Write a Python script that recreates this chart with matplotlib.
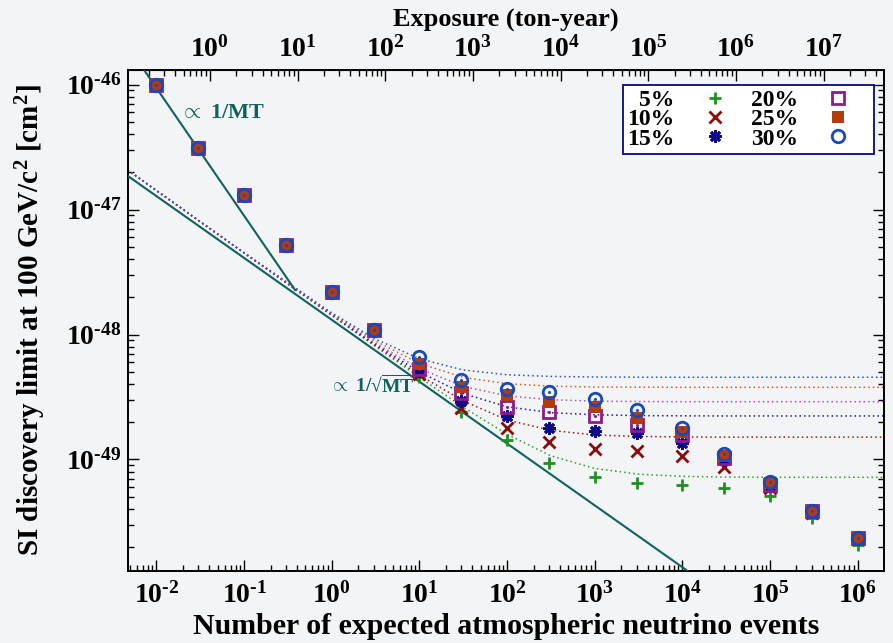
import numpy as np
import matplotlib
matplotlib.use("Agg")
import matplotlib.pyplot as plt
from matplotlib.ticker import LogLocator, NullFormatter

plt.rcParams['font.family'] = ['Liberation Serif', 'DejaVu Serif']
plt.rcParams['font.weight'] = 'bold'
plt.rcParams['axes.labelweight'] = 'bold'
plt.rcParams['mathtext.fontset'] = 'custom'
plt.rcParams['mathtext.rm'] = 'Liberation Serif:bold'
plt.rcParams['mathtext.it'] = 'Liberation Serif:bold'
plt.rcParams['mathtext.bf'] = 'Liberation Serif:bold'

# expected number of atmospheric neutrino events at each simulated exposure
events = [1e-2, 3e-2, 1e-1, 3e-1, 1, 3, 10, 30, 1e2, 3e2, 1e3, 3e3, 1e4, 3e4,
          1e5, 3e5, 1e6]

# discovery limits [cm^2] for each systematic uncertainty on the neutrino flux
limit_5 = [9.9e-47, 3.10e-47, 1.31e-47, 5.2e-48, 2.19e-48, 1.09e-48, 4.57e-49,
           2.41e-49, 1.43e-49, 9.4e-50, 7.24e-50, 6.5e-50, 6.25e-50, 5.9e-50,
           5.1e-50, 3.40e-50, 2.07e-50]
limit_10 = [9.9e-47, 3.10e-47, 1.31e-47, 5.2e-48, 2.19e-48, 1.09e-48, 4.83e-49,
            2.58e-49, 1.79e-49, 1.39e-49, 1.21e-49, 1.18e-49, 1.07e-49, 8.75e-50,
            5.9e-50, 3.75e-50, 2.30e-50]
limit_15 = [9.9e-47, 3.10e-47, 1.31e-47, 5.2e-48, 2.19e-48, 1.09e-48, 5.1e-49,
            2.94e-49, 2.23e-49, 1.79e-49, 1.70e-49, 1.64e-49, 1.36e-49, 9.9e-50,
            6.14e-50, 3.80e-50, 2.33e-50]
limit_20 = [9.9e-47, 3.10e-47, 1.31e-47, 5.2e-48, 2.19e-48, 1.09e-48, 5.3e-49,
            3.40e-49, 2.64e-49, 2.40e-49, 2.23e-49, 1.89e-49, 1.57e-49, 1.03e-49,
            6.3e-50, 3.85e-50, 2.35e-50]
limit_25 = [9.9e-47, 3.10e-47, 1.31e-47, 5.2e-48, 2.19e-48, 1.09e-48, 5.8e-49,
            3.82e-49, 3.28e-49, 2.90e-49, 2.64e-49, 2.15e-49, 1.66e-49, 1.07e-49,
            6.43e-50, 3.87e-50, 2.37e-50]
limit_30 = [9.9e-47, 3.10e-47, 1.31e-47, 5.2e-48, 2.19e-48, 1.09e-48, 6.6e-49,
            4.33e-49, 3.66e-49, 3.49e-49, 3.05e-49, 2.49e-49, 1.79e-49, 1.11e-49,
            6.6e-50, 3.87e-50, 2.37e-50]

# expectation curves (dotted), sampled along the event axis
curve_events = [10**-2.33, 1e-1, 1, 10**0.5, 10, 10**1.5, 1e2, 10**2.5, 1e3,
                10**3.5, 1e4, 10**4.5, 1e5, 10**6.31]
curve_5 = [2.07e-47, 4.49e-48, 1.42e-48, 8.01e-49, 4.54e-49, 2.62e-49, 1.59e-49,
           1.07e-49, 8.48e-50, 7.63e-50, 7.33e-50, 7.23e-50, 7.21e-50, 7.20e-50]
curve_10 = [2.07e-47, 4.49e-48, 1.43e-48, 8.12e-49, 4.73e-49, 2.94e-49, 2.07e-49,
            1.71e-49, 1.57e-49, 1.53e-49, 1.515e-49, 1.51e-49, 1.51e-49, 1.51e-49]
curve_15 = [2.07e-47, 4.49e-48, 1.44e-48, 8.29e-49, 5.01e-49, 3.37e-49, 2.64e-49,
            2.37e-49, 2.28e-49, 2.245e-49, 2.235e-49, 2.23e-49, 2.23e-49, 2.23e-49]
curve_20 = [2.07e-47, 4.50e-48, 1.45e-48, 8.49e-49, 5.34e-49, 3.84e-49, 3.23e-49,
            3.01e-49, 2.93e-49, 2.91e-49, 2.90e-49, 2.90e-49, 2.90e-49, 2.90e-49]
curve_25 = [2.075e-47, 4.50e-48, 1.47e-48, 8.83e-49, 5.87e-49, 4.54e-49, 4.04e-49,
            3.86e-49, 3.80e-49, 3.79e-49, 3.78e-49, 3.78e-49, 3.78e-49, 3.78e-49]
curve_30 = [2.075e-47, 4.51e-48, 1.49e-48, 9.19e-49, 6.39e-49, 5.20e-49, 4.76e-49,
            4.62e-49, 4.57e-49, 4.555e-49, 4.55e-49, 4.55e-49, 4.55e-49, 4.55e-49]

# scaling guides
mt_events = [10**-2.137, 10**-0.419]
mt_limit = [10**-45.888, 10**-47.644]
sqrt_events = [10**-2.325, 10**4.06]
sqrt_limit = [10**-46.732, 10**-49.892]

labels = ['5%', '10%', '15%', '20%', '25%', '30%']
events_per_ton_year = 0.0407

teal = '#0f625d'
series = [
    (limit_5, curve_5, '#1f8f1f', '#2aa02a', dict(marker='+', ms=9, mew=2.0)),
    (limit_10, curve_10, '#8b0a0a', '#a01818', dict(marker='x', ms=8, mew=2.0)),
    (limit_15, curve_15, '#0a0a8b', '#1a1a9a', dict(marker=(8, 2, 0), ms=9, mew=2.0)),
    (limit_20, curve_20, '#8e1a8e', '#b050c0', dict(marker='s', ms=8.5, mew=2.0, mfc='none')),
    (limit_25, curve_25, '#b43c0a', '#d85a20', dict(marker='s', ms=8.5, mew=0)),
    (limit_30, curve_30, '#1648c0', '#2a50d8', dict(marker='o', ms=9, mew=2.0, mfc='none')),
]

fig = plt.figure(figsize=(8.93, 6.43), dpi=100)
fig.patch.set_facecolor('#f3f4f5')
ax = fig.add_axes([0.1433, 0.112, 0.8467, 0.7791])
ax.set_facecolor('#f3f4f5')
ax.set_xscale('log')
ax.set_yscale('log')
ax.set_xlim(10**-2.325, 10**6.30)
ax.set_ylim(10**-49.892, 10**-45.884)

for lim, curve, mcol, ccol, style in series:
    ax.plot(curve_events, curve, ls=(0, (1, 2)), lw=1.1, color=ccol, zorder=2)

ax.plot(mt_events, mt_limit, color=teal, lw=1.5, zorder=3)
ax.plot(sqrt_events, sqrt_limit, color=teal, lw=1.5, zorder=3)

handles = []
for lim, curve, mcol, ccol, style in series:
    style = dict(style)
    if style.get('mfc') != 'none':
        style['mfc'] = mcol
    h, = ax.plot(events, lim, ls='none', color=mcol, mec=mcol, zorder=4, **style)
    if style['marker'] in ('s', 'o') and style.get('mfc') == 'none':
        ax.plot(events, lim, ls='none', marker='o', ms=2.2, color=mcol, mew=0, zorder=4)
    handles.append(h)

ax.text(0.0185, 5.9e-47, r'$\propto$ 1/MT', color=teal, fontsize=16,
        va='center', ha='left')
ax.text(0.93, 4.0e-49, '$\\propto$ 1/\u221a$\\overline{\\mathrm{MT}}$', color=teal,
        fontsize=14, va='center', ha='left')

ax.set_xticks([10.0**k for k in range(-2, 7)])
ax.set_xticklabels([r'$10^{\text{-}%d}$' % -k if k < 0 else r'$10^{%d}$' % k
                    for k in range(-2, 7)])
ax.xaxis.set_minor_locator(LogLocator(base=10, subs=np.arange(2, 10), numticks=20))
ax.xaxis.set_minor_formatter(NullFormatter())
ax.set_yticks([10.0**k for k in range(-49, -45)])
ax.set_yticklabels([r'$10^{\text{-}%d}$' % -k for k in range(-49, -45)])
ax.yaxis.set_minor_locator(LogLocator(base=10, subs=np.arange(2, 10), numticks=20))
ax.yaxis.set_minor_formatter(NullFormatter())
ax.tick_params(which='both', direction='in', right=True, top=False, labelsize=20,
               width=1.0, colors='black')
ax.tick_params(which='major', length=8)
ax.tick_params(which='minor', length=4)
ax.tick_params(axis='x', pad=8)
ax.tick_params(axis='y', pad=5)
for s in ax.spines.values():
    s.set_linewidth(1.4)

top = ax.secondary_xaxis('top', functions=(lambda n: n / events_per_ton_year,
                                           lambda e: e * events_per_ton_year))
top.set_xticks([10.0**k for k in range(0, 8)])
top.set_xticklabels([r'$10^{%d}$' % k for k in range(0, 8)])
top.xaxis.set_minor_locator(LogLocator(base=10, subs=np.arange(2, 10), numticks=20))
top.xaxis.set_minor_formatter(NullFormatter())
top.tick_params(which='both', direction='in', labelsize=20, width=1.0, pad=5)
top.tick_params(which='major', length=8)
top.tick_params(which='minor', length=4)
top.set_xlabel('Exposure (ton-year)', fontsize=19, labelpad=7)

ax.set_xlabel('Number of expected atmospheric neutrino events', fontsize=21.5,
              labelpad=3)
ax.set_ylabel('SI discovery limit at 100 GeV/c$^2$ [cm$^2$]', fontsize=21,
              labelpad=13)

# right-aligned percentages: pad with figure spaces to the widest label
width = max(len(s) for s in labels)
leg = ax.legend(handles, [s.rjust(width, '\u2007') for s in labels], ncol=2,
                loc='upper right', bbox_to_anchor=(0.9868, 0.970),
                markerfirst=False, fontsize=17, frameon=True, fancybox=False,
                framealpha=1, edgecolor='#1a1a80', labelspacing=-0.1,
                columnspacing=0.2, handlelength=2.65, handletextpad=0.37,
                borderpad=0.2, borderaxespad=0)
leg.get_frame().set_linewidth(1.4)

fig.savefig('out.png', dpi=100, facecolor=fig.get_facecolor())
